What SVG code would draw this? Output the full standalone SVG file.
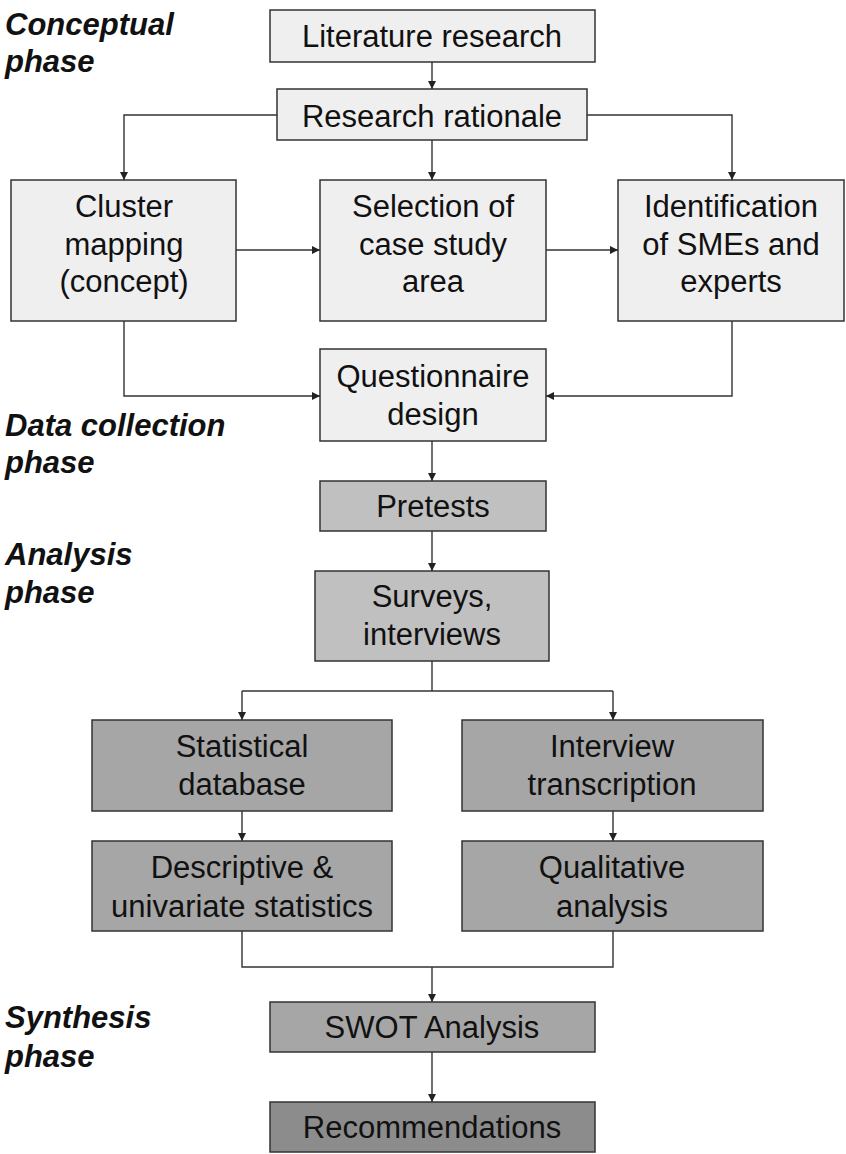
<svg xmlns="http://www.w3.org/2000/svg" width="846" height="1154" viewBox="0 0 846 1154">
<defs>
<marker id="arr" viewBox="0 0 10 10" refX="10" refY="5" markerWidth="9" markerHeight="8" markerUnits="userSpaceOnUse" orient="auto">
<path d="M0,0 L10,5 L0,10 z" fill="#222"/>
</marker>
<style>
.box{stroke:#333;stroke-width:1.5}
.l1{fill:#efefef}
.l2{fill:#c0c0c0}
.l3{fill:#a6a6a6}
.l4{fill:#8c8c8c}
.t{font-family:"Liberation Sans",Arial,sans-serif;font-size:31px;fill:#111;text-anchor:middle}
.ph{font-family:"Liberation Sans",Arial,sans-serif;font-size:31px;font-weight:bold;font-style:italic;fill:#111}
.c{fill:none;stroke:#333;stroke-width:1.4}
</style>
</defs>
<rect width="846" height="1154" fill="#fff"/>
<g id="phases">
<text class="ph" x="5" y="35">Conceptual</text>
<text class="ph" x="5" y="72">phase</text>
<text class="ph" x="5" y="436">Data collection</text>
<text class="ph" x="5" y="473">phase</text>
<text class="ph" x="5" y="565">Analysis</text>
<text class="ph" x="5" y="603">phase</text>
<text class="ph" x="5" y="1028">Synthesis</text>
<text class="ph" x="5" y="1067">phase</text>
</g>
<g id="connectors">
<path class="c" d="M432,62 V89" marker-end="url(#arr)"/>
<path class="c" d="M277,115 H124 V180" marker-end="url(#arr)"/>
<path class="c" d="M432,140 V180" marker-end="url(#arr)"/>
<path class="c" d="M587,115 H732 V180" marker-end="url(#arr)"/>
<path class="c" d="M236,250 H320" marker-end="url(#arr)"/>
<path class="c" d="M546,250 H618" marker-end="url(#arr)"/>
<path class="c" d="M124,321 V396 H320" marker-end="url(#arr)"/>
<path class="c" d="M732,321 V396 H546" marker-end="url(#arr)"/>
<path class="c" d="M432,441 V481" marker-end="url(#arr)"/>
<path class="c" d="M432,531 V571" marker-end="url(#arr)"/>
<path class="c" d="M432,661 V691"/>
<path class="c" d="M242,691 H613"/>
<path class="c" d="M242,691 V720" marker-end="url(#arr)"/>
<path class="c" d="M613,691 V720" marker-end="url(#arr)"/>
<path class="c" d="M242,811 V841" marker-end="url(#arr)"/>
<path class="c" d="M613,811 V841" marker-end="url(#arr)"/>
<path class="c" d="M242,931 V967 H613 V931"/>
<path class="c" d="M432,967 V1002" marker-end="url(#arr)"/>
<path class="c" d="M432,1052 V1102" marker-end="url(#arr)"/>
</g>
<g id="literature">
<rect class="box l1" x="270" y="10" width="325" height="52"/>
<text class="t" x="432" y="47">Literature research</text>
</g>
<g id="rationale">
<rect class="box l1" x="277" y="89" width="310" height="51"/>
<text class="t" x="432" y="127">Research rationale</text>
</g>
<g id="cluster">
<rect class="box l1" x="11" y="180" width="225" height="141"/>
<text class="t" x="124" y="217">Cluster</text>
<text class="t" x="124" y="255">mapping</text>
<text class="t" x="124" y="292">(concept)</text>
</g>
<g id="selection">
<rect class="box l1" x="320" y="180" width="226" height="141"/>
<text class="t" x="433" y="217">Selection of</text>
<text class="t" x="433" y="255">case study</text>
<text class="t" x="433" y="292">area</text>
</g>
<g id="identification">
<rect class="box l1" x="618" y="180" width="226" height="141"/>
<text class="t" x="731" y="217">Identification</text>
<text class="t" x="731" y="255">of SMEs and</text>
<text class="t" x="731" y="292">experts</text>
</g>
<g id="questionnaire">
<rect class="box l1" x="320" y="349" width="226" height="92"/>
<text class="t" x="433" y="387">Questionnaire</text>
<text class="t" x="433" y="425">design</text>
</g>
<g id="pretests">
<rect class="box l2" x="320" y="481" width="226" height="50"/>
<text class="t" x="433" y="517">Pretests</text>
</g>
<g id="surveys">
<rect class="box l2" x="315" y="571" width="234" height="90"/>
<text class="t" x="432" y="607">Surveys,</text>
<text class="t" x="432" y="645">interviews</text>
</g>
<g id="statdb">
<rect class="box l3" x="92" y="720" width="300" height="91"/>
<text class="t" x="242" y="757">Statistical</text>
<text class="t" x="242" y="795">database</text>
</g>
<g id="transcription">
<rect class="box l3" x="462" y="720" width="301" height="91"/>
<text class="t" x="612" y="757">Interview</text>
<text class="t" x="612" y="795">transcription</text>
</g>
<g id="descriptive">
<rect class="box l3" x="92" y="841" width="300" height="90"/>
<text class="t" x="242" y="878">Descriptive &amp;</text>
<text class="t" x="242" y="917">univariate statistics</text>
</g>
<g id="qualitative">
<rect class="box l3" x="462" y="841" width="301" height="90"/>
<text class="t" x="612" y="878">Qualitative</text>
<text class="t" x="612" y="917">analysis</text>
</g>
<g id="swot">
<rect class="box l3" x="270" y="1002" width="325" height="50"/>
<text class="t" x="432" y="1038">SWOT Analysis</text>
</g>
<g id="recommendations">
<rect class="box l4" x="270" y="1102" width="325" height="50"/>
<text class="t" x="432" y="1138">Recommendations</text>
</g>
</svg>
